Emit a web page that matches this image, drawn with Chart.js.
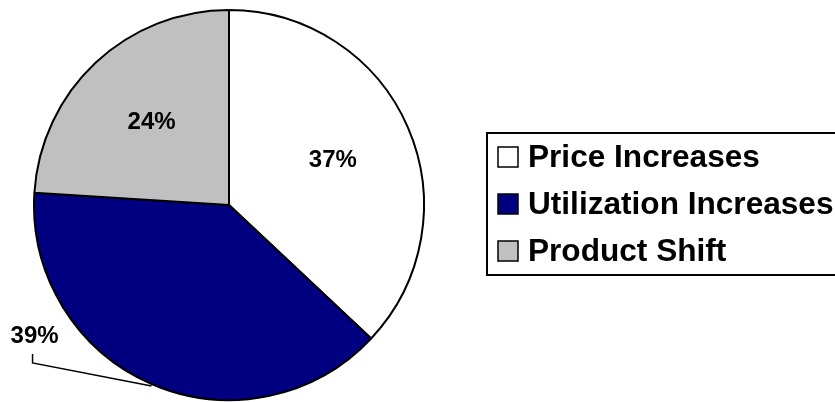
<!DOCTYPE html>
<html>
<head>
<meta charset="utf-8">
<script src="https://cdn.jsdelivr.net/npm/chart.js@4.4.1/dist/chart.umd.min.js"></script>
<style>
  html, body { margin: 0; padding: 0; background: #ffffff; }
  #wrap { width: 835px; height: 402px; position: relative; }
</style>
</head>
<body>
<div id="wrap"><canvas id="c" width="835" height="402"></canvas></div>
<script>
const categories = ['Price Increases', 'Utilization Increases', 'Product Shift'];
const shares = [37, 39, 24];
const sliceColors = ['#FFFFFF', '#000080', '#C0C0C0'];
const FONT = '"Liberation Sans", Arial, Helvetica, sans-serif';

const labelPlugin = {
  id: 'sliceLabels',
  afterDatasetsDraw(chart) {
    const ctx = chart.ctx;
    const meta = chart.getDatasetMeta(0);
    ctx.save();
    ctx.fillStyle = '#000';
    ctx.font = 'bold 24px ' + FONT;
    ctx.textAlign = 'center';
    ctx.textBaseline = 'middle';
    meta.data.forEach((arc, i) => {
      const p = arc.getProps(['x', 'y', 'startAngle', 'endAngle', 'outerRadius'], true);
      const mid = (p.startAngle + p.endAngle) / 2;
      const txt = shares[i] + '%';
      if (i === 1) {
        // outside label with leader line
        const ex = p.x + Math.cos(mid) * p.outerRadius;
        const ey = p.y + Math.sin(mid) * p.outerRadius;
        ctx.strokeStyle = '#000';
        ctx.lineWidth = 1.5;
        ctx.beginPath();
        ctx.moveTo(ex, ey + 2);
        ctx.lineTo(ex - 119, ey - 21);
        ctx.lineTo(ex - 119, ey - 30);
        ctx.stroke();
        ctx.fillText(txt, ex - 117, ey - 48);
      } else {
        const r = p.outerRadius * 0.58;
        ctx.fillText(txt, p.x + Math.cos(mid) * r, p.y + Math.sin(mid) * r);
      }
    });
    ctx.restore();
  }
};

const legendPlugin = {
  id: 'boxLegend',
  afterDraw(chart) {
    const ctx = chart.ctx;
    const ds = chart.data.datasets[0];
    const boxX = 487, boxY = 133, boxW = 360, boxH = 142;
    const rowY = [157, 204, 251];
    ctx.save();
    ctx.strokeStyle = '#000';
    ctx.lineWidth = 2;
    ctx.strokeRect(boxX, boxY, boxW, boxH);
    ctx.font = 'bold 31.6px ' + FONT;
    ctx.textBaseline = 'middle';
    ctx.textAlign = 'left';
    chart.data.labels.forEach((lab, i) => {
      const y = rowY[i];
      ctx.fillStyle = ds.backgroundColor[i];
      ctx.fillRect(498, y - 10, 20, 20);
      ctx.lineWidth = 1.5;
      ctx.strokeRect(498, y - 10, 20, 20);
      ctx.fillStyle = '#000';
      ctx.fillText(lab, 528, y + 1);
    });
    ctx.restore();
  }
};

new Chart(document.getElementById('c'), {
  type: 'pie',
  data: {
    labels: categories,
    datasets: [{
      data: shares,
      backgroundColor: sliceColors,
      borderColor: '#000000',
      borderWidth: 2
    }]
  },
  options: {
    responsive: false,
    animation: false,
    layout: { padding: { left: 33, right: 410, top: 9, bottom: 1 } },
    plugins: {
      legend: { display: false },
      tooltip: { enabled: false }
    }
  },
  plugins: [labelPlugin, legendPlugin]
});
</script>
</body>
</html>
